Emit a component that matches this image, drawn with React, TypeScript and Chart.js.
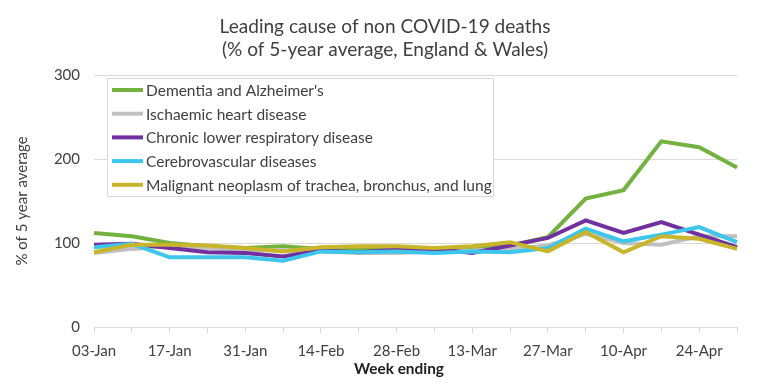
import React, { useEffect, useRef } from "react";
import { Chart, registerables } from "chart.js";

Chart.register(...registerables);

const weeks = [
  "03-Jan", "10-Jan", "17-Jan", "24-Jan", "31-Jan", "07-Feb", "14-Feb", "21-Feb", "28-Feb",
  "06-Mar", "13-Mar", "20-Mar", "27-Mar", "03-Apr", "10-Apr", "17-Apr", "24-Apr", "01-May",
];

const dementia = [112, 108, 100, 96, 94, 96, 93, 93, 93, 93, 95, 97, 107, 153, 163, 221, 214, 190];
const ischaemic = [88, 93, 96, 94, 92, 91, 90, 88, 88, 90, 91, 93, 97, 111, 100, 98, 108, 108];
const chronicLower = [98, 99, 94, 89, 88, 84, 91, 89, 92, 93, 88, 97, 106, 127, 112, 125, 110, 95];
const cerebrovascular = [95, 99, 83, 83, 83, 79, 90, 89, 90, 88, 90, 89, 94, 117, 102, 110, 119, 101];
const malignant = [89, 98, 98, 97, 94, 90, 95, 96, 96, 94, 96, 101, 90, 113, 89, 108, 105, 93];

const seriesNames = [
  "Dementia and Alzheimer's",
  "Ischaemic heart disease",
  "Chronic lower respiratory disease",
  "Cerebrovascular diseases",
  "Malignant neoplasm of trachea, bronchus, and lung",
];
const seriesColors = ["#74B240", "#C0C0C0", "#70309F", "#3DC6EC", "#C9B52C"];

const titleLines = ["Leading cause of non COVID-19 deaths", "(% of 5-year average, England & Wales)"];
const xTitle = "Week ending";
const yTitle = "% of 5 year average";

const FONT = "Lato, 'Open Sans', sans-serif";
const TEXT = "#404040";

function fitSize(ctx: CanvasRenderingContext2D, text: string, width: number, weight: string) {
  ctx.font = `${weight} 100px ${FONT}`;
  const w = ctx.measureText(text).width;
  return (100 * width) / w;
}

const overlay = {
  id: "overlay",
  beforeDraw(chart: any) {
    const ctx = chart.ctx;
    ctx.save();
    ctx.fillStyle = "#ffffff";
    ctx.fillRect(0, 0, chart.width, chart.height);
    ctx.restore();
  },
  afterDraw(chart: any) {
    const ctx: CanvasRenderingContext2D = chart.ctx;
    ctx.save();
    ctx.fillStyle = TEXT;
    ctx.textAlign = "center";
    ctx.textBaseline = "middle";
    const ts = fitSize(ctx, titleLines[0], 331, "normal");
    ctx.font = `normal ${ts}px ${FONT}`;
    ctx.fillText(titleLines[0], 385, 27);
    ctx.fillText(titleLines[1], 385, 50);

    const xs = fitSize(ctx, xTitle, 90, "bold");
    ctx.font = `bold ${xs}px ${FONT}`;
    ctx.fillStyle = "#202020";
    ctx.fillText(xTitle, 399, 369);

    // legend
    ctx.fillStyle = "#ffffff";
    ctx.strokeStyle = "#D9D9D9";
    ctx.lineWidth = 1;
    ctx.fillRect(107.5, 78.5, 386, 118);
    ctx.strokeRect(107.5, 78.5, 386, 118);
    const ls = fitSize(ctx, seriesNames[4], 346, "normal");
    ctx.font = `normal ${ls}px ${FONT}`;
    ctx.textAlign = "left";
    seriesNames.forEach((name, i) => {
      const y = 90 + i * 23.7;
      ctx.strokeStyle = seriesColors[i];
      ctx.lineWidth = 4;
      ctx.beginPath();
      ctx.moveTo(112, y);
      ctx.lineTo(143, y);
      ctx.stroke();
      ctx.fillStyle = TEXT;
      ctx.fillText(name, 146, y + 1);
    });
    ctx.restore();
  },
};

export default function App() {
  const ref = useRef<HTMLCanvasElement | null>(null);
  useEffect(() => {
    if (!ref.current) return;
    const series = [dementia, ischaemic, chronicLower, cerebrovascular, malignant];
    const chart = new Chart(ref.current, {
      type: "line",
      data: {
        labels: weeks,
        datasets: series.map((d, i) => ({
          label: seriesNames[i],
          data: d,
          borderColor: seriesColors[i],
          backgroundColor: seriesColors[i],
          borderWidth: 4,
          pointRadius: 0,
          tension: 0,
          fill: false,
          order: 5 - i,
        })),
      },
      options: {
        animation: false,
        responsive: true,
        maintainAspectRatio: false,
        layout: { padding: { top: 75, right: 33, left: 0, bottom: 0 } },
        plugins: { legend: { display: false }, tooltip: { enabled: false }, title: { display: false } },
        scales: {
          x: {
            type: "category",
            offset: false,
            grid: { drawOnChartArea: false, drawTicks: true, tickLength: 6, color: "#D9D9D9" },
            border: { display: true, color: "#D9D9D9", width: 1 },
            ticks: {
              autoSkip: false,
              maxRotation: 0,
              minRotation: 0,
              padding: 9,
              color: TEXT,
              font: { family: FONT, size: 15 },
              callback: (_v: any, i: number) => (i % 2 === 0 ? weeks[i] : ""),
            },
            afterFit: (s: any) => {
              s.height = 58;
            },
          },
          y: {
            min: 0,
            max: 300,
            grid: { color: "#D9D9D9", drawTicks: false },
            border: { display: false },
            ticks: { stepSize: 100, padding: 14, color: TEXT, font: { family: FONT, size: 15 } },
            title: {
              display: true,
              text: yTitle,
              color: TEXT,
              font: { family: FONT, size: 15 },
              padding: { top: 13, bottom: 0 },
            },
            afterFit: (s: any) => {
              s.width = 94;
            },
          },
        },
      },
      plugins: [overlay],
    } as any);
    return () => chart.destroy();
  }, []);
  return (
    <div style={{ position: "fixed", left: 0, top: 0, width: 770, height: 385, background: "#fff" }}>
      <canvas ref={ref} />
    </div>
  );
}
